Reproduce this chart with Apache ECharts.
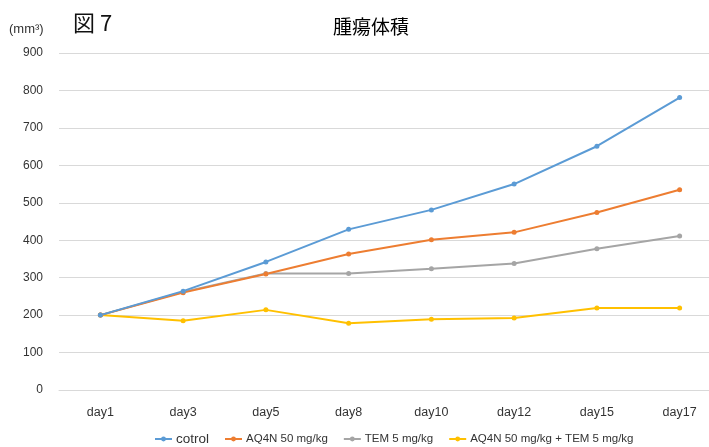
<!DOCTYPE html>
<html><head><meta charset="utf-8">
<script src="https://cdn.jsdelivr.net/npm/echarts@6/dist/echarts.min.js"></script>
<style>html,body{margin:0;padding:0;background:#fff;overflow:hidden}#c{width:730px;height:447px}</style>
</head><body><div id="c"></div>
<script>
const categories = ['day1','day3','day5','day8','day10','day12','day15','day17'];
const seriesNames = ['cotrol','AQ4N 50 mg/kg','TEM 5 mg/kg','AQ4N 50 mg/kg + TEM 5 mg/kg'];
const cotrol = [200,264,342,429,481,550,651,781];
const aq4n = [200,260,310,363,401,421,474,535];
const tem = [200,262,311,311,324,338,377,411];
const combo = [200,185,214,178,189,192,219,219];
const yTicks = [0,100,200,300,400,500,600,700,800,900];
const colors = ['#5B9BD5','#ED7D31','#A5A5A5','#FFC000'];
const values = [cotrol, aq4n, tem, combo];
const font = '"Liberation Sans", Arial, sans-serif';

const chart = echarts.init(document.getElementById('c'));
chart.setOption({
  animation:false,
  backgroundColor:'#fff',
  color: colors,
  title:{text:'腫瘍体積', left:366, top:12, textAlign:'center',
    textStyle:{fontFamily:'"Noto Sans CJK JP"', fontSize:19, fontWeight:'normal', color:'#000'}},
  graphic:[
    {type:'text', left:9, top:23, style:{text:'(mm³)', font:'13px '+font, fill:'#333'}},
    {type:'text', left:73, top:12, style:{text:'図 7', font:'22px "Noto Sans CJK JP"', fill:'#111'}}
  ],
  legend:{top:427, left:149, itemWidth:17, itemHeight:6, itemGap:15,
    textStyle:{fontFamily:font, fontSize:11.5, color:'#333', padding:[0,0,0,-1], rich:{b:{fontSize:13.5, fontFamily:font, color:'#333'}}},
    formatter: n => n === 'cotrol' ? '{b|' + n + '}' : n,
    data: seriesNames},
  grid:{left:59, width:662, top:53, bottom:57},
  xAxis:{type:'category', data:categories, boundaryGap:true,
    axisLine:{show:true, lineStyle:{color:'#d9d9d9'}}, axisTick:{show:false},
    axisLabel:{fontFamily:font, fontSize:12.5, color:'#333', margin:16}},
  yAxis:{type:'value', min:yTicks[0], max:yTicks[yTicks.length-1], interval:100,
    axisLine:{show:false}, axisTick:{show:false},
    splitLine:{lineStyle:{color:'#d9d9d9'}},
    axisLabel:{fontFamily:font, fontSize:12, color:'#333', margin:16}},
  series: seriesNames.map((n,i)=>({
    name:n, type:'line', data:values[i], symbol:'circle', symbolSize:5,
    lineStyle:{width:2, color:colors[i]}, itemStyle:{color:colors[i]}
  })).reverse()
});
</script></body></html>
